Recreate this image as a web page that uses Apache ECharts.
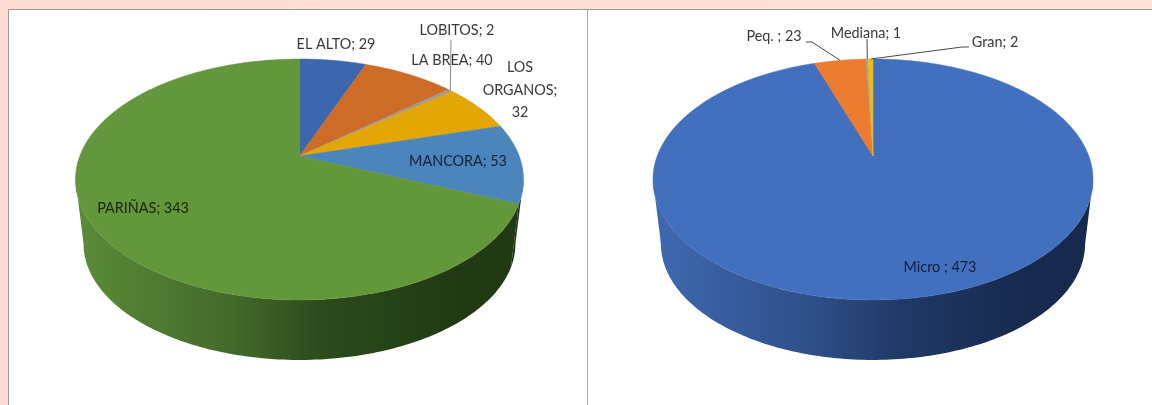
<!DOCTYPE html>
<html>
<head>
<meta charset="utf-8">
<title>Pie charts</title>
<script src="https://cdn.jsdelivr.net/npm/echarts@6/dist/echarts.min.js"></script>
<style>
  html, body { margin: 0; padding: 0; background: #fff; }
  #chart { width: 1152px; height: 405px; }
</style>
</head>
<body>
<div id="chart"></div>
<script>
  // datos por distrito (grafico izquierdo)
  var districtNames = ['EL ALTO', 'LA BREA', 'LOBITOS', 'LOS ORGANOS', 'MANCORA', 'PARIÑAS'];
  var districtLabels = ['EL ALTO; 29', 'LA BREA; 40', 'LOBITOS; 2', 'LOS\nORGANOS;\n32', 'MANCORA; 53', 'PARIÑAS; 343'];
  var districtValues = [29, 40, 2, 32, 53, 343];
  var districtColors = ['#3c66ad', '#cc6c27', '#9a9a9a', '#e2a704', '#4b85bb', '#62973b'];

  // datos por tamano (grafico derecho)
  var sizeNames = ['Micro', 'Peq.', 'Mediana', 'Gran'];
  var sizeLabels = ['Micro ; 473', 'Peq. ; 23', 'Mediana; 1', 'Gran; 2'];
  var sizeValues = [473, 23, 1, 2];
  var sizeColors = ['#4270bf', '#ea7b2f', '#a5a5a5', '#f2bc05'];

  // sombra del costado de cada porcion, cuatro tonos de izquierda a derecha
  var districtWalls = [null, null, null, null, ['#1d3420', '#1d3420', '#1d3420', '#1d3420'], ['#5a8c38', '#44692b', '#2c4a1b', '#213a14']];
  var sizeWalls = [['#3f69b0', '#30508a', '#213a68', '#17294c'], null, null, null];

  // posicion de las etiquetas y guias
  var districtLabelPos = [[336, 44], [452, 60], [457, 30], [520, 90], [458, 161], [143, 208]];
  var districtLabelFill = ['#3a3a3a', '#3a3a3a', '#3a3a3a', '#3a3a3a', '#12233a', '#16280e'];
  var districtGuides = [null, null, [[451, 40]], null, null, null];
  var sizeLabelPos = [[940, 267], [774, 36], [866, 33], [995, 42]];
  var sizeLabelFill = ['#101e3c', '#3a3a3a', '#3a3a3a', '#3a3a3a'];
  var sizeGuides = [null, [[806, 42], [812, 42]], [[867, 39]], [[969, 47], [962, 47]]];

  // pastel en perspectiva: el vertice queda por encima del centro de la elipse
  var APEX_Y = 156, ELLIPSE_Y = 179.5, PERSP = 0.195, DEPTH_Y = 115.9, DROP = 64.3, SHRINK = 0.964;
  var WALL_FROM = 101.2, WALL_TO = 258.8;

  function topPoint(cx, a, deg) {
    var t = deg * Math.PI / 180;
    var w = 1 + PERSP * Math.cos(t);
    return [cx + a * Math.sin(t) / w, APEX_Y - DEPTH_Y * Math.cos(t) / w];
  }
  function bottomPoint(cx, a, deg) {
    var p = topPoint(cx, a, deg);
    return [cx + SHRINK * (p[0] - cx), ELLIPSE_Y + DROP + SHRINK * (p[1] - ELLIPSE_Y)];
  }
  function arcPoints(fn, cx, a, from, to) {
    var pts = [];
    for (var d = from; d < to; d += 1) pts.push(fn(cx, a, d));
    pts.push(fn(cx, a, to));
    return pts;
  }

  function pieSeries(cfg) {
    var total = cfg.values.reduce(function (s, v) { return s + v; }, 0);
    var acc = 0;
    var data = cfg.values.map(function (v, i) {
      var start = acc / total * 360;
      acc += v;
      return { name: cfg.names[i], value: [start, acc / total * 360, v] };
    });
    return {
      type: 'custom',
      coordinateSystem: 'none',
      silent: true,
      animation: false,
      data: data,
      renderItem: function (params, api) {
        var i = params.dataIndex;
        var start = api.value(0), end = api.value(1);
        var children = [];
        var from = Math.max(start, WALL_FROM), to = Math.min(end, WALL_TO);
        if (cfg.walls[i] && from < to) {
          var wall = arcPoints(topPoint, cfg.cx, cfg.a, from, to)
            .concat(arcPoints(bottomPoint, cfg.cx, cfg.a, from, to).reverse());
          children.push({
            type: 'polygon',
            shape: { points: wall },
            style: {
              fill: {
                type: 'linear', global: true,
                x: cfg.cx - cfg.rx, y: 0, x2: cfg.cx + cfg.rx, y2: 0,
                colorStops: [
                  { offset: 0, color: cfg.walls[i][0] },
                  { offset: 0.35, color: cfg.walls[i][1] },
                  { offset: 0.55, color: cfg.walls[i][2] },
                  { offset: 0.85, color: cfg.walls[i][3] },
                  { offset: 1, color: cfg.walls[i][3] }
                ]
              }
            }
          });
        }
        var face = [[cfg.cx, APEX_Y]].concat(arcPoints(topPoint, cfg.cx, cfg.a, start, end));
        children.push({
          type: 'polygon',
          z2: 5,
          shape: { points: face },
          style: { fill: cfg.colors[i], stroke: cfg.colors[i], lineWidth: 0.5 }
        });
        if (cfg.guides[i]) {
          var line = cfg.guides[i].concat([topPoint(cfg.cx, cfg.a, (start + end) / 2)]);
          children.push({
            type: 'polyline',
            z2: 8,
            shape: { points: line },
            style: { fill: null, stroke: i === 2 && cfg.values.length > 4 ? '#8a8a8a' : '#4a4a4a', lineWidth: 1 }
          });
        }
        children.push({
          type: 'text',
          z2: 10,
          style: {
            text: cfg.labels[i],
            x: cfg.labelPos[i][0],
            y: cfg.labelPos[i][1],
            align: 'center',
            verticalAlign: 'middle',
            fontFamily: 'Lato',
            fontSize: 14.4,
            lineHeight: 22.5,
            fill: cfg.labelFill[i]
          }
        });
        return { type: 'group', children: children };
      }
    };
  }

  var chart = echarts.init(document.getElementById('chart'));
  chart.setOption({
    animation: false,
    backgroundColor: {
      type: 'linear', x: 0, y: 0, x2: 1, y2: 0,
      colorStops: [{ offset: 0, color: '#ffdcd6' }, { offset: 1, color: '#ffe3d9' }]
    },
    graphic: [
      { type: 'rect', silent: true, shape: { x: 8.5, y: 9.5, width: 1160, height: 420 }, style: { fill: '#fff', stroke: '#999', lineWidth: 1 } },
      { type: 'line', silent: true, shape: { x1: 587.5, y1: 10, x2: 587.5, y2: 405 }, style: { stroke: '#aaa', lineWidth: 1 } }
    ],
    series: [
      pieSeries({
        cx: 299.5, a: 219.7, rx: 224,
        names: districtNames, labels: districtLabels, values: districtValues, colors: districtColors,
        walls: districtWalls, labelPos: districtLabelPos, labelFill: districtLabelFill, guides: districtGuides
      }),
      pieSeries({
        cx: 873, a: 215.8, rx: 220,
        names: sizeNames, labels: sizeLabels, values: sizeValues, colors: sizeColors,
        walls: sizeWalls, labelPos: sizeLabelPos, labelFill: sizeLabelFill, guides: sizeGuides
      })
    ]
  });
</script>
</body>
</html>
